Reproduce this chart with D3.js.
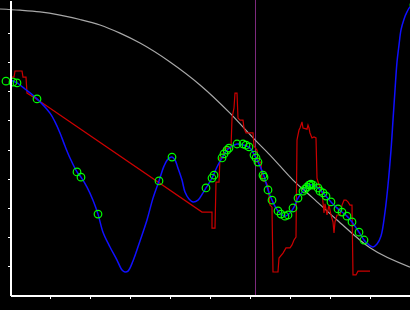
<!DOCTYPE html>
<html>
<head>
<meta charset="utf-8">
<script src="https://cdn.jsdelivr.net/npm/d3@7"></script>
<style>
  html, body { margin: 0; padding: 0; background: #000; }
  svg { display: block; }
  .axis path, .axis line { stroke: #fff; }
</style>
</head>
<body>
<div class="chart"></div>
<script>
const xTicks = [1, 2, 3, 4, 5, 6, 7, 8, 9]
const yTicks = [1, 2, 3, 4, 5, 6, 7, 8, 9]
const markerX = 6.125

const grayX = [-0.25, 0.25, 0.75, 1.25, 1.75, 2.25, 2.75, 3.25, 4.0, 4.75, 5.5, 6.125, 6.5, 7.075, 7.575, 8.175, 9.0, 10.0]
const grayY = [9.83, 9.79, 9.73, 9.62, 9.47, 9.28, 9.00, 8.66, 8.01, 7.22, 6.25, 5.33, 4.81, 3.95, 3.33, 2.58, 1.62, 0.96]

const blueX = [0, 0.175, 0.375, 0.675, 1.0, 1.125, 1.25, 1.375, 1.5, 1.675, 1.775, 1.925, 2.075, 2.2, 2.325, 2.5, 2.675, 2.8, 2.875, 2.95,
  3.075, 3.25, 3.425, 3.575, 3.725, 3.85, 3.95, 4.05, 4.125, 4.2, 4.3, 4.375, 4.475, 4.575, 4.7, 4.825, 4.9, 5.05, 5.175, 5.3,
  5.45, 5.675, 5.85, 6.0, 6.15, 6.25, 6.35, 6.45, 6.55, 6.7, 6.875, 7.0, 7.1, 7.2, 7.325, 7.475, 7.575, 7.7, 7.825, 8.025,
  8.2, 8.425, 8.55, 8.725, 8.85, 8.975, 9.075, 9.175, 9.275, 9.375, 9.45, 9.525, 9.575, 9.625, 9.675, 9.725, 9.775, 9.85, 9.925, 10.0, 10.1]
const blueY = [7.39, 7.29, 7.08, 6.74, 6.25, 5.95, 5.57, 5.12, 4.71, 4.23, 4.05, 3.71, 3.26, 2.78, 2.16, 1.65, 1.20, 0.86, 0.79, 0.82,
  1.17, 1.86, 2.58, 3.33, 3.92, 4.43, 4.67, 4.74, 4.64, 4.36, 3.95, 3.54, 3.30, 3.20, 3.26, 3.51, 3.68, 4.02, 4.40, 4.71,
  5.02, 5.19, 5.15, 5.05, 4.71, 4.43, 4.09, 3.61, 3.26, 2.89, 2.71, 2.82, 3.02, 3.33, 3.57, 3.78, 3.78, 3.68, 3.51, 3.20,
  2.96, 2.71, 2.51, 2.16, 1.89, 1.72, 1.65, 1.75, 2.03, 2.85, 3.78, 4.98, 6.01, 7.04, 8.01, 8.59, 9.11, 9.48, 9.73, 9.90, 9.97]

const redX = [0, 0.1, 0.125, 0.3, 0.325, 0.4, 0.425, 0.7, 4.8, 5.05, 5.05, 5.125, 5.15, 5.225, 5.25, 5.325, 5.35, 5.525, 5.55, 5.6,
  5.625, 5.675, 5.7, 5.75, 5.825, 5.85, 5.9, 6.075, 6.1, 6.175, 6.2, 6.275, 6.3, 6.4, 6.45, 6.5, 6.55, 6.575, 6.7, 6.725,
  6.825, 6.9, 7.0, 7.05, 7.1, 7.15, 7.175, 7.225, 7.25, 7.3, 7.325, 7.425, 7.45, 7.475, 7.5, 7.55, 7.6, 7.65, 7.675, 7.725,
  7.8, 7.85, 7.875, 7.925, 7.975, 8.025, 8.075, 8.1, 8.125, 8.175, 8.25, 8.3, 8.35, 8.4, 8.45, 8.5, 8.55, 8.575, 8.65, 8.7, 9.0]
const redY = [7.49, 7.49, 7.70, 7.70, 7.49, 7.49, 6.94, 6.70, 2.85, 2.85, 2.30, 2.30, 3.88, 3.88, 4.71, 4.71, 5.05, 5.05, 6.08, 6.43,
  6.94, 6.94, 6.08, 6.01, 6.01, 5.74, 5.57, 5.57, 5.12, 4.98, 4.57, 4.57, 3.95, 3.88, 3.75, 3.09, 3.02, 0.79, 0.79, 1.27,
  1.44, 1.62, 1.62, 1.72, 1.89, 1.99, 5.33, 5.67, 5.74, 5.95, 5.74, 5.70, 5.84, 5.74, 5.57, 5.40, 5.43, 5.40, 4.02, 3.78,
  3.54, 2.82, 3.13, 2.75, 3.09, 2.75, 2.51, 2.13, 2.51, 2.75, 2.75, 3.09, 3.26, 3.26, 3.20, 3.09, 3.09, 0.69, 0.69, 0.82, 0.82]

const circleX = [-0.1, 0.075, 0.175, 0.675, 1.675, 1.775, 2.2, 3.725, 4.05, 4.9, 5.05, 5.1, 5.3, 5.35, 5.425, 5.475, 5.675, 5.825, 5.9, 5.975,
  6.1, 6.15, 6.2, 6.325, 6.35, 6.45, 6.55, 6.7, 6.775, 6.875, 6.95, 7.075, 7.2, 7.325, 7.375, 7.425, 7.475, 7.5, 7.525, 7.575,
  7.7, 7.75, 7.825, 7.9, 8.025, 8.2, 8.3, 8.425, 8.55, 8.725, 8.85, 10.1]
const circleY = [7.35, 7.32, 7.29, 6.74, 4.23, 4.05, 2.78, 3.92, 4.74, 3.68, 4.02, 4.12, 4.71, 4.85, 4.98, 5.05, 5.19, 5.19, 5.15, 5.09,
  4.81, 4.71, 4.57, 4.12, 4.05, 3.61, 3.26, 2.89, 2.78, 2.71, 2.75, 2.99, 3.33, 3.57, 3.64, 3.71, 3.78, 3.78, 3.81, 3.78,
  3.68, 3.57, 3.51, 3.40, 3.20, 2.96, 2.85, 2.71, 2.51, 2.16, 1.89, 9.97]

const width = 410
const height = 310

const x = d3.scaleLinear().domain([0, 10]).range([10, 410])
const y = d3.scaleLinear().domain([0, 10.14]).range([295, 0])

const zip = (xs, ys) => xs.map((v, i) => [v, ys[i]])

const svg = d3.select(".chart").append("svg")
    .attr("width", width)
    .attr("height", height)
    .attr("viewBox", [0, 0, width, height])

svg.append("rect").attr("width", width).attr("height", height).attr("fill", "#000")

svg.append("line")
    .attr("x1", x(markerX)).attr("x2", x(markerX))
    .attr("y1", 0).attr("y2", y(0))
    .attr("stroke", "#7d2a7d")
    .attr("stroke-width", 1)
    .style("shape-rendering", "crispEdges")

svg.append("path")
    .datum(zip(grayX, grayY))
    .attr("fill", "none")
    .attr("stroke", "#a8a8a8")
    .attr("stroke-width", 1.2)
    .attr("d", d3.line().x(d => x(d[0])).y(d => y(d[1])).curve(d3.curveMonotoneX))

svg.append("path")
    .datum(zip(redX, redY))
    .attr("fill", "none")
    .attr("stroke", "#cc0000")
    .attr("stroke-width", 1.2)
    .attr("d", d3.line().x(d => x(d[0])).y(d => y(d[1])))

svg.append("path")
    .datum(zip(blueX, blueY))
    .attr("fill", "none")
    .attr("stroke", "#1010ff")
    .attr("stroke-width", 1.5)
    .attr("d", d3.line().x(d => x(d[0])).y(d => y(d[1])).curve(d3.curveCatmullRom))

svg.selectAll(".pt")
    .data(zip(circleX, circleY))
    .enter()
    .append("circle")
        .attr("class", "pt")
        .attr("cx", d => x(d[0]))
        .attr("cy", d => y(d[1]))
        .attr("r", 3.8)
        .attr("fill", "none")
        .attr("stroke", "#00ff00")
        .attr("stroke-width", 1.2)

svg.append("g")
    .attr("class", "axis")
    .attr("transform", `translate(0, ${y(0) + 0.5})`)
    .call(d3.axisBottom(x).tickValues(xTicks).tickFormat("").tickSize(3).tickSizeOuter(0))
    .style("shape-rendering", "crispEdges")

svg.append("g")
    .attr("class", "axis")
    .attr("transform", `translate(${x(0) + 0.5}, 0)`)
    .call(d3.axisLeft(y).tickValues(yTicks).tickFormat("").tickSize(3).tickSizeOuter(0))
    .style("shape-rendering", "crispEdges")

svg.selectAll(".axis path").attr("stroke-width", 1.5)
</script>
</body>
</html>
